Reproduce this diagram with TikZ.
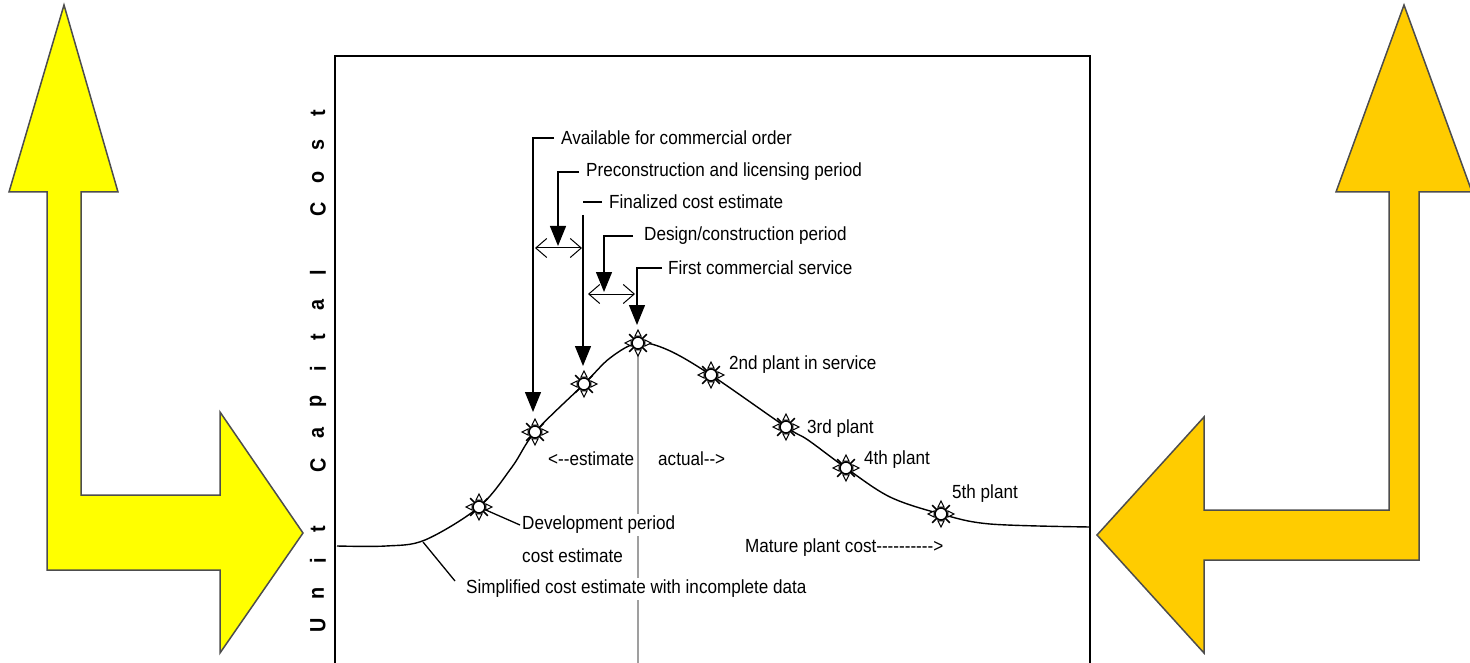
\documentclass[tikz,border=0pt]{standalone}
\usepackage{fontspec}
\newfontfamily\chartfont{Liberation Sans}[FakeStretch=0.9]
\usetikzlibrary{arrows.meta}
\definecolor{bigyellow}{HTML}{FFFF00}
\definecolor{bigorange}{HTML}{FFCC00}
\definecolor{edgegray}{HTML}{4D4D4D}
\tikzset{
	sunmark/.pic={
		\draw[line width=1.6pt] (45:6) -- (45:12.5) (135:6) -- (135:12.5) (225:6) -- (225:12.5) (315:6) -- (315:12.5);
		\foreach \a in {0,90,180,270}
			\draw[line width=1pt,fill=white] ({\a+24}:7.5) -- (\a:13) -- ({\a-24}:7.5) -- cycle;
		\draw[line width=1.6pt,fill=white] (0,0) circle (6);
	},
	bigtip/.style={-{Triangle[length=20pt,width=16pt]}},
	span/.style={{Straight Barb[length=11pt,width=19pt]}-{Straight Barb[length=11pt,width=19pt]},line width=1pt}
}
\begin{document}
\begin{tikzpicture}[x=1pt,y=-1pt]
	\useasboundingbox (0,0) rectangle (1470,663);
	% the two bent arrows
	\begin{scope}[draw=edgegray,line width=1.5pt]
		\filldraw[fill=bigyellow] (64,5) -- (118,192) -- (81,192) -- (81,495) -- (220,495) -- (220,412) -- (303,533) -- (220,653) -- (220,570) -- (47,570) -- (47,192) -- (9,192) -- cycle;
		\filldraw[fill=bigorange] (1404,5) -- (1472,192) -- (1419,192) -- (1419,560) -- (1204,560) -- (1204,653) -- (1097,535) -- (1204,417) -- (1204,510) -- (1389,510) -- (1389,192) -- (1336,192) -- cycle;
	\end{scope}
	% frame
	\draw[line width=2pt] (335,663) -- (335,56) -- (1090,56) -- (1090,663);
	% axis title
	\foreach \ch [count=\k from 0] in {U,n,i,t,{},C,a,p,i,t,a,l,{},C,o,s,t}
		\node[rotate=90,font=\chartfont\fontsize{22}{24}\selectfont\bfseries] (ax\k) at (318,625-32*\k) {\ch};
	% points on the curve
	\foreach \n/\x/\y in {1/479/507,2/535/432,3/584/384,4/638/343,5/711/375,6/786/427,7/846/468,8/941/514}
		\coordinate (s\n) at (\x,\y);
	\draw[gray!75,line width=1.8pt] (s4) -- (s4 |- 0,663);
	\draw[line width=1.4pt] plot[smooth,tension=0.55] coordinates {(337,546) (386,546) (425,540) (s1) (512,467) (s2) (s3) (610,358) (s4) (668,350) (s5) (s6) (808,440) (s7) (890,497) (s8) (990,524) (1090,527)};
	\begin{scope}\tikzset{every node/.style={anchor=west,inner sep=2pt,font=\chartfont\fontsize{19}{22}\selectfont}}
		\node (avail) at (559,138) {Available for commercial order};
		\node (precon) at (584,172) {Preconstruction and licensing period};
		\node (final) at (607,202) {Finalized cost estimate};
		\node (design) at (642,236) {Design/construction period};
		\node (first) at (666,268) {First commercial service};
		\node (plant2) at (727,365) {2nd plant in service};
		\node (plant3) at (805,429) {3rd plant};
		\node (plant4) at (862,460) {4th plant};
		\node (plant5) at (950,494) {5th plant};
		\node (mature) at (743,548) {Mature plant cost---------->};
		\node (est) at (546,459) {<--estimate};
		\node (act) at (656,459) {actual-->};
		\node[fill=white] (devel) at (520,525) {Development period};
		\node (devcost) at (520,556) {cost estimate};
		\node[fill=white] (simpl) at (464,589) {Simplified cost estimate with incomplete data};
	\end{scope}
	% leaders
	\begin{scope}[line width=1.3pt]
		\coordinate (t2) at (533,412);
		\coordinate (tpre) at (558,246);
		\coordinate (f1) at (583,215);
		\coordinate (t3) at (583,366);
		\coordinate (tdes) at (604,292);
		\coordinate (t4) at (637,325);
		\coordinate (c0) at (423,542);
		\draw[bigtip,shorten <=5pt] (avail.west) -| (t2);
		\draw[bigtip,shorten <=5pt] (precon.west) -| (tpre);
		\draw[shorten <=5pt] (final.west) -- (final.west -| f1);
		\draw[bigtip] (f1) -- (t3);
		\draw[bigtip,shorten <=9pt] (design.west) -| (tdes);
		\draw[bigtip,shorten <=4pt] (first.west) -| (t4);
		\draw (s1) -- (devel.west);
		\draw (c0) -- ([shift={(-9,-8)}]simpl.west);
		\coordinate (d1a) at (535,248);
		\coordinate (d1b) at (582,248);
		\coordinate (d2a) at (588,294);
		\coordinate (d2b) at (635,294);
		\draw[span] (d1a) -- (d1b);
		\draw[span] (d2a) -- (d2b);
	\end{scope}
	\foreach \n in {1,...,8}
		\pic at (s\n) {sunmark};
\end{tikzpicture}
\end{document}
